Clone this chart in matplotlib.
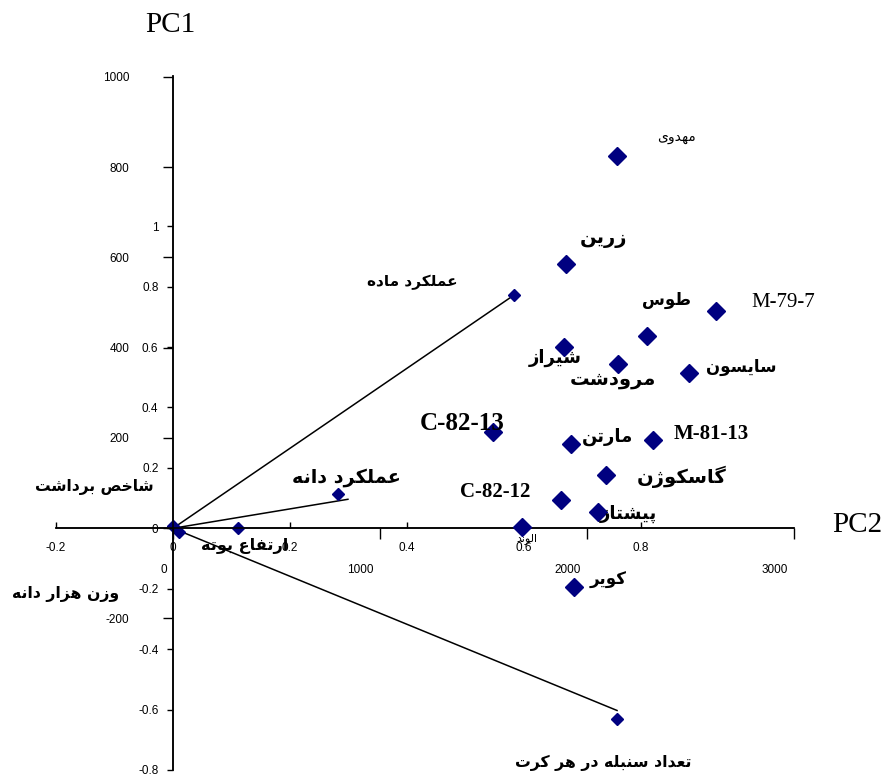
import matplotlib
matplotlib.use('Agg')
import matplotlib.pyplot as plt
from matplotlib.transforms import ScaledTranslation

# ---------------- data ----------------
genotypes = ['مهدوی', 'زرین', 'M-79-7', 'طوس', 'شیراز', 'مرودشت', 'سایسون',
             'C-82-13', 'مارتن', 'M-81-13', 'گاسکوژن', 'C-82-12', 'پیشتاز',
             'الوند', 'کویر']
score_pc2 = [2145, 1899, 2623, 2290, 1889, 2150, 2493, 1546, 1923, 2319,
             2092, 1874, 2053, 1686, 1937]
score_pc1 = [825, 585, 481, 426, 401, 364, 344, 213, 186, 195, 118, 62, 35,
             2, -131]

traits = ['عملکرد ماده', 'عملکرد دانه', 'ارتفاع بوته', 'شاخص برداشت',
          'وزن هزار دانه', 'تعداد سنبله در هر کرت']
load_pc2 = [0.583, 0.282, 0.111, 0.0, 0.010, 0.759]
load_pc1 = [0.772, 0.113, 0.0, 0.008, -0.012, -0.632]

vector_traits = ['عملکرد ماده', 'عملکرد دانه', 'تعداد سنبله در هر کرت']
vec_pc2 = [0.583, 0.299, 0.759]
vec_pc1 = [0.772, 0.096, -0.603]

score_xticks = [0, 1000, 2000, 3000]
score_yticks = [-200, 0, 200, 400, 600, 800, 1000]
load_xticks = [-0.2, 0, 0.2, 0.4, 0.6, 0.8]
load_yticks = [-0.8, -0.6, -0.4, -0.2, 0, 0.2, 0.4, 0.6, 0.8, 1.0]

# ---------------- Persian shaping (presentation forms) ----------------
FORMS = {  # iso, fin, ini, med
    'ا': ('\uFE8D', '\uFE8E', None, None), 'آ': ('\uFE81', '\uFE82', None, None),
    'ب': ('\uFE8F', '\uFE90', '\uFE91', '\uFE92'), 'پ': ('\uFB56', '\uFB57', '\uFB58', '\uFB59'),
    'ت': ('\uFE95', '\uFE96', '\uFE97', '\uFE98'), 'ث': ('\uFE99', '\uFE9A', '\uFE9B', '\uFE9C'),
    'ج': ('\uFE9D', '\uFE9E', '\uFE9F', '\uFEA0'), 'چ': ('\uFB7A', '\uFB7B', '\uFB7C', '\uFB7D'),
    'ح': ('\uFEA1', '\uFEA2', '\uFEA3', '\uFEA4'), 'خ': ('\uFEA5', '\uFEA6', '\uFEA7', '\uFEA8'),
    'د': ('\uFEA9', '\uFEAA', None, None), 'ذ': ('\uFEAB', '\uFEAC', None, None),
    'ر': ('\uFEAD', '\uFEAE', None, None), 'ز': ('\uFEAF', '\uFEB0', None, None),
    'ژ': ('\uFB8A', '\uFB8B', None, None),
    'س': ('\uFEB1', '\uFEB2', '\uFEB3', '\uFEB4'), 'ش': ('\uFEB5', '\uFEB6', '\uFEB7', '\uFEB8'),
    'ص': ('\uFEB9', '\uFEBA', '\uFEBB', '\uFEBC'), 'ض': ('\uFEBD', '\uFEBE', '\uFEBF', '\uFEC0'),
    'ط': ('\uFEC1', '\uFEC2', '\uFEC3', '\uFEC4'), 'ظ': ('\uFEC5', '\uFEC6', '\uFEC7', '\uFEC8'),
    'ع': ('\uFEC9', '\uFECA', '\uFECB', '\uFECC'), 'غ': ('\uFECD', '\uFECE', '\uFECF', '\uFED0'),
    'ف': ('\uFED1', '\uFED2', '\uFED3', '\uFED4'), 'ق': ('\uFED5', '\uFED6', '\uFED7', '\uFED8'),
    'ک': ('\uFB8E', '\uFB8F', '\uFB90', '\uFB91'), 'گ': ('\uFB92', '\uFB93', '\uFB94', '\uFB95'),
    'ل': ('\uFEDD', '\uFEDE', '\uFEDF', '\uFEE0'), 'م': ('\uFEE1', '\uFEE2', '\uFEE3', '\uFEE4'),
    'ن': ('\uFEE5', '\uFEE6', '\uFEE7', '\uFEE8'), 'و': ('\uFEED', '\uFEEE', None, None),
    'ه': ('\uFEE9', '\uFEEA', '\uFEEB', '\uFEEC'), 'ی': ('\uFBFC', '\uFBFD', '\uFBFE', '\uFBFF'),
}


def shape(text):
    if not any(c in FORMS for c in text):
        return text
    out = []
    n = len(text)
    for i, c in enumerate(text):
        if c not in FORMS:
            out.append(c)
            continue
        f = FORMS[c]
        prev = text[i - 1] if i > 0 else None
        nxt = text[i + 1] if i < n - 1 else None
        join_prev = prev in FORMS and FORMS[prev][2] is not None
        join_next = f[2] is not None and nxt in FORMS
        if join_prev and join_next:
            out.append(f[3])
        elif join_prev:
            out.append(f[1])
        elif join_next:
            out.append(f[2])
        else:
            out.append(f[0])
    return ''.join(out)[::-1]


# ---------------- figure ----------------
fig = plt.figure(figsize=(8.88, 7.82), dpi=100)
W, H = 888, 782
rect = [56 / W, (H - 770) / H, (794 - 56) / W, (770 - 76) / H]

ax = fig.add_axes(rect)      # loadings
ax2 = fig.add_axes(rect)     # scores
for a in (ax, ax2):
    a.patch.set_visible(False)
    a.spines['top'].set_visible(False)
    a.spines['right'].set_visible(False)
    a.spines['left'].set_position(('data', 0))
    a.spines['bottom'].set_position(('data', 0))
    a.spines['left'].set_linewidth(1.1)
    a.spines['bottom'].set_linewidth(1.1)

ax.set_xlim(-0.2, 1.0615)
ax.set_ylim(-0.8, 1.497)
ax2.set_xlim(-565, 3000)
ax2.set_ylim(-536.6, 1002)

tickfont = dict(family='Liberation Sans', size=8.5)

# loading ticks
ax.set_xticks(load_xticks)
ax.set_xticklabels(['-0.2', '0', '0.2', '0.4', '0.6', '0.8'], **tickfont)
ax.set_yticks(load_yticks)
ax.set_yticklabels(['-0.8', '-0.6', '-0.4', '-0.2', '0', '0.2', '0.4', '0.6', '0.8', '1'], **tickfont)
ax.tick_params(axis='x', direction='in', length=4.5, width=1, pad=10)
ax.tick_params(axis='y', direction='out', length=4.5, width=1, pad=6)

# score ticks
ax2.set_xticks(score_xticks)
ax2.set_xticklabels([str(v) for v in score_xticks], ha='right', **tickfont)
ax2.set_yticks(score_yticks)
ax2.set_yticklabels(['-200', '', '200', '400', '600', '800', '1000'], **tickfont)
ax2.tick_params(axis='x', direction='out', length=8, width=1, pad=18)
ax2.tick_params(axis='y', direction='out', length=7.5, width=1, pad=24)
for lab in ax2.get_xticklabels():
    lab.set_transform(lab.get_transform() + ScaledTranslation(-6 / 100, 0, fig.dpi_scale_trans))

navy = '#000080'

# vectors
for x, y in zip(vec_pc2, vec_pc1):
    ax.plot([0, x], [0, y], color='black', lw=1.1, zorder=2)

# loading markers
ax.plot(load_pc2, load_pc1, linestyle='none', marker='D', markersize=6.5,
        color=navy, zorder=3)

# score markers
ax2.plot(score_pc2, score_pc1, linestyle='none', marker='D', markersize=9.5,
         color=navy, zorder=3)

# genotype labels: (dx, dy) offsets in pixels, font size, style
g_style = {
    'مهدوی': ((59, 19), 10, 'normal', 'fa'),
    'زرین': ((37, 26), 14, 'bold', 'fa'),
    'M-79-7': ((67, 9), 15, 'normal', 'lat'),
    'طوس': ((19, 36), 12, 'bold', 'fa'),
    'شیراز': ((-9, -11), 13, 'bold', 'fa'),
    'مرودشت': ((-5, -16), 14, 'bold', 'fa'),
    'سایسون': ((52, 6), 12, 'bold', 'fa'),
    'C-82-13': ((-31, 8), 18, 'bold', 'lat'),
    'مارتن': ((37, 7), 13, 'bold', 'fa'),
    'M-81-13': ((58, 6), 15, 'bold', 'lat'),
    'گاسکوژن': ((76, -2), 14, 'bold', 'fa'),
    'C-82-12': ((-66, 8), 15, 'bold', 'lat'),
    'پیشتاز': ((30, -2), 13, 'bold', 'fa'),
    'الوند': ((5, -11), 8, 'normal', 'fa'),
    'کویر': ((34, 7), 12, 'bold', 'fa'),
}
for name, x, y in zip(genotypes, score_pc2, score_pc1):
    off, fs, fw, kind = g_style[name]
    fam = 'DejaVu Sans' if kind == 'fa' else 'Liberation Serif'
    ax2.annotate(shape(name), (x, y), xytext=off, textcoords='offset pixels',
                 ha='center', va='center', fontsize=fs, fontweight=fw,
                 family=fam, zorder=5)

t_style = {
    'عملکرد ماده': ((-102, 13), 11),
    'عملکرد دانه': ((8, 17), 13.8),
    'ارتفاع بوته': ((7, -18), 11.6),
    'شاخص برداشت': ((-79, 39), 11.2),
    'وزن هزار دانه': ((-113, -62), 11.3),
    'تعداد سنبله در هر کرت': ((-14, -44), 11.3),
}
for name, x, y in zip(traits, load_pc2, load_pc1):
    off, fs = t_style[name]
    ax.annotate(shape(name), (x, y), xytext=off, textcoords='offset pixels',
                ha='center', va='center', fontsize=fs, fontweight='bold',
                family='DejaVu Sans', zorder=5)

# axis titles
fig.text(170 / W, 1 - 25 / H, 'PC1', family='Liberation Serif', fontsize=21,
         ha='center', va='center')
fig.text(857 / W, 1 - 525 / H, 'PC2', family='Liberation Serif', fontsize=21,
         ha='center', va='center')

fig.savefig('out.png', dpi=100)
